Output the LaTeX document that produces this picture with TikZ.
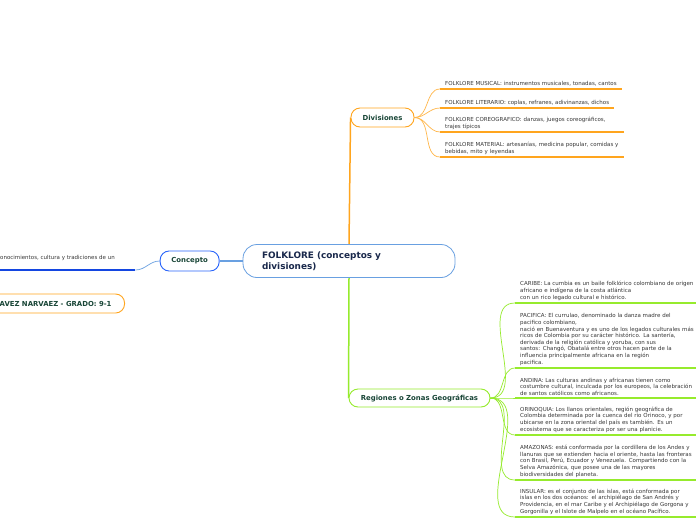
\documentclass[tikz,border=0pt]{standalone}
\usepackage{fontspec}
\setmainfont{DejaVu Sans}
\usetikzlibrary{positioning, backgrounds}
\definecolor{mapBlue}{RGB}{40,100,250}
\definecolor{mapDeep}{RGB}{20,70,225}
\definecolor{mapSky}{RGB}{105,160,225}
\definecolor{mapOrange}{RGB}{255,165,30}
\definecolor{mapLime}{RGB}{150,235,45}
\definecolor{mapInk}{RGB}{25,70,55}
\definecolor{mapNavy}{RGB}{25,40,75}
\definecolor{leafGrey}{RGB}{55,55,55}
\tikzset{
	topic/.style={rectangle, rounded corners=9pt, fill=white, line width=0.9pt,
		minimum height=19pt, inner xsep=0pt, align=center,
		font=\fontsize{6.9}{8}\selectfont\bfseries, text=mapInk},
	leaf/.style={anchor=south west, align=left, text=leafGrey,
		font=\fontsize{5.5}{6.6}\selectfont, inner xsep=5pt, inner ysep=2.5pt},
	underline/.style={line width=1.6pt},
	twig/.style={line width=0.7pt},
	trunk/.style={line width=1.5pt}
}

\begin{document}
\begin{tikzpicture}[x=1pt, y=-1pt]
	\path[use as bounding box] (0,0) rectangle (696,520);
	\node[draw=mapSky, fill=white, rounded corners=14pt, line width=0.8pt,
		minimum height=33pt, text width=174pt, inner xsep=19pt, align=left,
		font=\fontsize{8.9}{11}\selectfont\bfseries, text=mapNavy] (central) at (349,261)
		{FOLKLORE (conceptos y\\divisiones)};
	\node[topic, draw=mapBlue, minimum width=59pt, minimum height=20pt, left=23pt of central] (concepto) {Concepto};
	\node[topic, draw=mapOrange, minimum width=63pt] (divisiones) at (382.5,117.5) {Divisiones};
	\node[topic, draw=mapLime, minimum width=141pt, minimum height=18pt] (regiones) at (419.5,398) {Regiones o Zonas Geográficas};
	\node[topic, draw=mapOrange, inner xsep=13pt, anchor=east] (alumno) at (125,303.5) {AVEZ NARVAEZ - GRADO: 9-1};
	% concepto
	\node[leaf, text width=130pt, text depth=8pt] (definicion) at (-5,270) {onocimientos, cultura y tradiciones de un};
	% divisiones
	\node[leaf] (musical) at (440,89) {FOLKLORE MUSICAL: instrumentos musicales, tonadas, cantos};
	\node[leaf] (literario) at (440,108) {FOLKLORE LITERARIO: coplas, refranes, adivinanzas, dichos};
	\node[leaf, text width=174pt] (coreo) at (440,132) {FOLKLORE COREOGRAFICO: danzas, juegos coreográficos,\\trajes típicos};
	\node[leaf, text width=174pt] (material) at (440,157) {FOLKLORE MATERIAL: artesanías, medicina popular, comidas y\\bebidas, mito y leyendas};
	% regiones
	\node[leaf, text width=185pt] (caribe) at (515,303) {CARIBE: La cumbia es un baile folklórico colombiano de origen\\africano e indígena de la costa atlántica\\con un rico legado cultural e histórico.};
	\node[leaf, text width=185pt] (pacifica) at (515,368) {PACIFICA: El currulao, denominado la danza madre del\\pacifico colombiano,\\nació en Buenaventura y es uno de los legados culturales más\\ricos de Colombia por su carácter histórico. La santería,\\derivada de la religión católica y yoruba, con sus\\santos: Changó, Obatalá entre otros hacen parte de la\\influencia principalmente africana en la región\\pacifica.};
	\node[leaf, text width=185pt] (andina) at (515,398) {ANDINA: Las culturas andinas y africanas tienen como\\costumbre cultural, inculcada por los europeos, la celebración\\de santos católicos como africanos.};
	\node[leaf, text width=185pt] (orinoquia) at (515,435) {ORINOQUIA: Los llanos orientales, región geográfica de\\Colombia determinada por la cuenca del río Orinoco, y por\\ubicarse en la zona oriental del país es también. Es un\\ecosistema que se caracteriza por ser una planicie.};
	\node[leaf, text width=185pt] (amazonas) at (515,480) {AMAZONAS: está conformada por la cordillera de los Andes y\\llanuras que se extienden hacia el oriente, hasta las fronteras\\con Brasil, Perú, Ecuador y Venezuela. Compartiendo con la\\Selva Amazónica, que posee una de las mayores\\biodiversidades del planeta.};
	\node[leaf, text width=185pt] (insular) at (515,517) {INSULAR: es el conjunto de las islas, está conformada por\\islas en los dos océanos: el archipiélago de San Andrés y\\Providencia, en el mar Caribe y el Archipiélago de Gorgona y\\Gorgonilla y el Islote de Malpelo en el océano Pacífico.};
	\begin{scope}[on background layer]
		\fill[white] (0,0) rectangle (696,520);
		\draw[trunk, draw=mapSky] (central.west) -- (concepto.east);
		\draw[trunk, draw=mapOrange] (central.north) -- (divisiones.west);
		\draw[trunk, draw=mapLime] (central.south) -- (regiones.west);
		\draw[twig, draw=mapSky] (concepto.west) to[out=180, in=0] (definicion.south east);
		\draw[underline, draw=mapDeep] (definicion.south west) -- (definicion.south east);
		\foreach \d in {musical, literario, coreo, material} {
			\draw[twig, draw=mapOrange!80] (divisiones.east) to[out=0, in=180] (\d.south west);
			\draw[underline, draw=mapOrange] (\d.south west) -- (\d.south east);
		}
		\foreach \r in {caribe, pacifica, andina, orinoquia, amazonas, insular} {
			\draw[twig, draw=mapLime] (regiones.east) to[out=0, in=180] (\r.south west);
			\draw[underline, draw=mapLime] (\r.south west) -- (\r.south east);
		}
	\end{scope}
\end{tikzpicture}
\end{document}
